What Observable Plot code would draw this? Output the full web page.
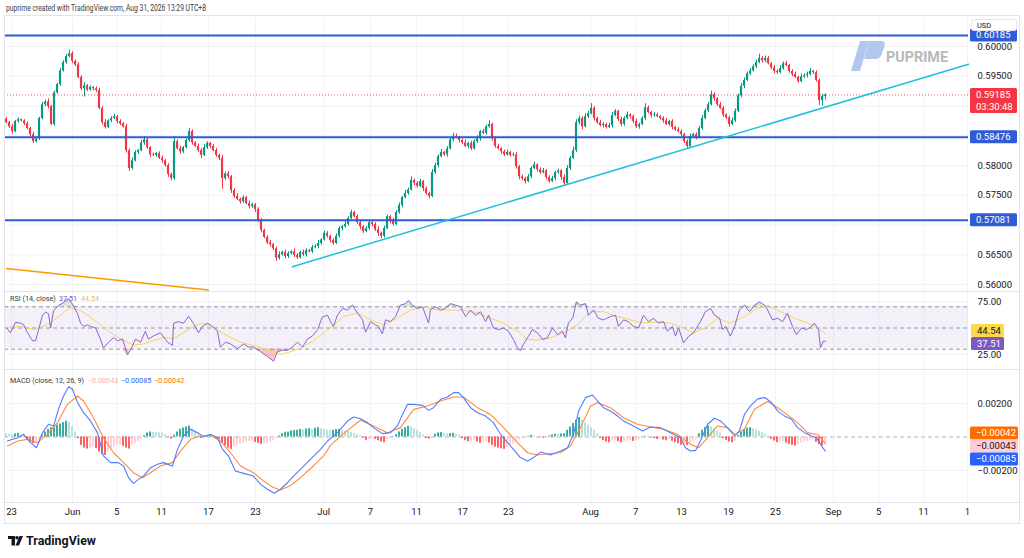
<!DOCTYPE html>
<html><head><meta charset="utf-8">
<script src="https://cdn.jsdelivr.net/npm/d3@7"></script>
<script src="https://cdn.jsdelivr.net/npm/@observablehq/plot@0.6"></script>
<style>
body{margin:0;background:#fff;}
#root{position:relative;width:1024px;height:558px;overflow:hidden;background:#fff;font-family:Roboto,"Noto Sans",sans-serif;}
#root > svg{position:absolute;left:0;}
</style></head><body><div id="root"></div>
<script>
// ---------- DATA ----------
const firstOpen = 0.5878;
const closes = [
0.5872,0.5865,0.5857,0.5874,0.5877,0.5875,0.5870,0.5862,0.5852,0.5840,
0.5845,0.5879,0.5902,0.5907,0.5899,0.5869,0.5922,0.5936,0.5959,0.5973,
0.5983,0.5988,0.5975,0.5969,0.5948,0.5929,0.5934,0.5927,0.5931,0.5929,
0.5926,0.5896,0.5872,0.5864,0.5875,0.5879,0.5882,0.5874,0.5870,0.5865,
0.5825,0.5795,0.5808,0.5822,0.5825,0.5838,0.5843,0.5830,0.5818,0.5817,
0.5820,0.5812,0.5808,0.5800,0.5785,0.5778,0.5840,0.5828,0.5823,0.5830,
0.5842,0.5857,0.5838,0.5832,0.5825,0.5817,0.5830,0.5837,0.5832,0.5825,
0.5817,0.5812,0.5778,0.5786,0.5781,0.5758,0.5748,0.5743,0.5739,0.5746,
0.5736,0.5731,0.5734,0.5726,0.5707,0.5691,0.5679,0.5670,0.5667,0.5660,
0.5644,0.5650,0.5654,0.5647,0.5652,0.5655,0.5649,0.5645,0.5654,0.5650,
0.5657,0.5655,0.5662,0.5664,0.5669,0.5675,0.5686,0.5681,0.5674,0.5669,
0.5681,0.5694,0.5697,0.5701,0.5711,0.5721,0.5714,0.5704,0.5697,0.5689,
0.5694,0.5704,0.5701,0.5692,0.5686,0.5681,0.5694,0.5714,0.5706,0.5701,
0.5721,0.5733,0.5746,0.5753,0.5759,0.5775,0.5770,0.5765,0.5773,0.5761,
0.5753,0.5748,0.5788,0.5800,0.5815,0.5822,0.5818,0.5828,0.5843,0.5849,
0.5847,0.5842,0.5838,0.5832,0.5837,0.5828,0.5840,0.5845,0.5857,0.5854,
0.5865,0.5869,0.5845,0.5832,0.5828,0.5823,0.5818,0.5822,0.5817,0.5818,
0.5798,0.5781,0.5778,0.5773,0.5781,0.5795,0.5801,0.5793,0.5788,0.5791,
0.5780,0.5773,0.5778,0.5788,0.5791,0.5780,0.5770,0.5795,0.5812,0.5825,
0.5872,0.5879,0.5865,0.5882,0.5887,0.5896,0.5879,0.5872,0.5867,0.5869,
0.5864,0.5867,0.5884,0.5891,0.5877,0.5869,0.5879,0.5885,0.5882,0.5874,
0.5865,0.5869,0.5879,0.5897,0.5889,0.5884,0.5885,0.5882,0.5879,0.5875,
0.5869,0.5874,0.5864,0.5860,0.5857,0.5852,0.5840,0.5832,0.5849,0.5852,
0.5847,0.5862,0.5879,0.5892,0.5902,0.5919,0.5912,0.5902,0.5896,0.5885,
0.5880,0.5869,0.5875,0.5891,0.5917,0.5933,0.5943,0.5954,0.5959,0.5966,
0.5973,0.5980,0.5976,0.5980,0.5971,0.5964,0.5958,0.5956,0.5963,0.5971,
0.5968,0.5958,0.5953,0.5948,0.5941,0.5949,0.5951,0.5953,0.5958,0.5956,
0.5943,0.5909,0.5916,0.59185];
// wick extents beyond the body, in pips (0.0001)
const wickUp = [
3,2,4,2,3,1,2,3,2,4, 3,2,4,3,5,2,3,2,4,3, 4,6,3,2,4,3,5,2,3,2, 3,4,3,5,2,3,4,2,3,2,
4,3,5,3,2,4,6,3,2,3, 2,3,4,2,3,2,8,3,4,2, 3,5,3,2,4,3,5,3,2,3, 4,2,5,3,4,2,3,5,2,3,
2,4,3,2,3,4,2,3,4,2, 3,5,2,4,3,2,5,3,2,4, 3,2,4,3,5,2,4,3,2,3, 4,3,2,5,3,4,2,3,4,2,
3,4,2,3,5,2,4,3,2,5, 3,4,2,5,3,6,2,3,4,2, 3,2,5,4,3,5,2,4,3,5, 4,2,3,5,2,4,3,5,2,4,
3,6,2,3,4,2,3,4,2,3, 4,2,3,2,4,3,5,2,3,4, 2,3,4,2,3,2,4,5,3,6, 5,4,3,5,4,8,3,2,4,3,
2,4,5,3,2,4,3,5,2,3, 4,2,3,7,3,2,4,3,2,3, 4,2,3,2,4,3,2,3,4,2, 3,4,5,3,4,6,3,2,4,3,
2,3,5,4,3,5,4,3,4,3, 4,7,3,4,3,2,4,3,5,3, 4,2,3,4,2,5,3,4,5,2, 3,2,3,2];
const wickDn = [
2,3,4,2,3,2,3,2,4,3, 2,3,2,3,4,2,3,2,3,2, 3,2,4,3,2,3,14,3,2,4, 3,2,4,3,2,3,2,4,3,2,
4,5,3,2,3,2,4,3,5,2, 3,2,4,3,5,4,3,2,4,3, 2,3,4,2,3,5,2,3,4,2, 3,4,18,3,4,5,3,2,4,3,
2,4,3,5,3,4,2,3,4,3, 5,3,2,4,3,2,4,3,2,3, 4,2,3,2,4,3,2,3,4,3, 2,3,4,2,3,4,2,3,5,3,
2,3,4,3,5,4,3,2,4,3, 2,3,4,2,3,2,4,3,2,5, 3,4,2,3,4,2,3,4,2,3, 2,4,3,2,4,3,2,3,4,2,
3,2,4,3,2,4,3,2,3,2, 4,5,3,4,2,3,2,4,3,2, 4,3,2,4,3,5,4,2,3,2, 3,4,5,2,3,2,4,3,2,4,
3,2,4,2,3,4,3,2,4,3, 3,4,2,3,2,4,3,2,3,4, 2,3,4,3,2,4,3,4,2,3, 4,2,3,2,3,2,4,3,2,4,
3,5,2,3,2,3,4,2,3,2, 3,2,4,3,2,3,4,3,2,3, 2,3,4,2,3,2,3,4,2,3, 3,8,9,6];
// MACD histogram per bar, in units of 0.00001
const histVals = [
20,16,14,18,22,8,-4,-20,-34,-40, -36,-16,10,30,46,56,62,70,78,86,
94,90,60,30,-10,-50,-66,-72,-68,-60, -70,-90,-106,-110,-90,-72,-60,-50,-46,-56,
-66,-72,-50,-40,-28,-14,8,24,30,28, 26,24,22,14,-4,-12,10,30,46,54,
60,66,50,36,20,-8,-4,4,6,2, -6,-14,-36,-52,-66,-74,-60,-50,-44,-36,
-30,-26,-24,-32,-38,-44,-40,-36,-30,-20, -8,6,20,28,30,36,38,40,46,44,
48,50,46,52,56,50,44,40,38,40, 44,46,40,36,32,28,22,16,8,-6,
-20,-16,-12,-14,-22,-30,-34,-16,-6,2, 14,30,46,56,64,60,50,40,28,12,
-8,-12,-2,16,24,26,22,18,20,22, 16,12,-10,-20,-28,-24,-18,-30,-38,-32,
-26,-36,-50,-60,-66,-70,-74,-62,-50,-42, -30,-18,-8,-2,4,10,6,2,-4,-6,
-2,6,12,16,14,18,20,40,60,80, 100,116,100,86,70,56,40,20,-8,-20,
-30,-34,-24,-20,-28,-34,-30,-24,-20,-26, -22,-16,-8,4,2,-4,-10,-14,-12,-18,
-22,-16,-26,-34,-40,-50,-44,-52,-40,-30, -16,20,40,56,66,60,50,36,24,-10,
-20,-30,-34,-24,10,30,46,52,56,50, 42,34,26,16,6,-14,-24,-34,-30,-28,
-36,-44,-50,-54,-44,-36,-30,-26,-20,-18, -32,-46,-54,-43];
// [bar, value] readings
const rsiLine = [[0,50],[1.3,45.5],[3,55.4],[4.7,54.5],[5.7,53],[7,45.5],[8.7,38],[9.7,38],[10.7,48.5],[12,62],[13,65],[14,63.4],[14.7,50],[15.7,66.4],[17.3,71],[19,74],[20.7,77.8],[22,72.4],[23.7,63.4],[24.7,54.5],[25.7,51.5],[27,53],[28,51.5],[29.7,50],[31.3,39.6],[32.3,31.2],[34,36.6],[35.7,41],[37,38],[38.7,39.6],[40.3,24.6],[41.3,29],[43,39.6],[44.7,36.6],[46.3,47],[47.3,39.6],[49,42.5],[51.3,45.5],[53.7,36.6],[55.3,33.6],[55.7,54.5],[57.3,56],[59,54.5],[60.7,61],[62.3,54.5],[64,45.5],[65.3,51.5],[67,54.5],[68.7,51.5],[70.3,47],[71.3,32],[73,36.6],[74.7,35],[77,30.6],[79,35],[80.7,32],[82.3,32],[84.7,27.6],[87,23],[89,18.7],[90.3,27.6],[92,29],[93.7,29],[95.3,32],[97,36.6],[98.7,32],[100.3,39.6],[102,42.5],[103.7,48.5],[105.3,60.4],[107,62],[108,56],[109,51.5],[110.3,62],[112,68.5],[113.7,67],[115.3,71.5],[117,64],[118.7,57.7],[119.7,46],[121.3,56],[123,53],[124,51.5],[125.3,44.5],[126.3,57.7],[128,56],[129.7,60.8],[131.3,71.5],[133,73],[134,76],[135.3,71.5],[137,68.5],[138.7,70],[139.7,62],[140.7,54.6],[141.3,67],[143,70],[144.7,67],[146.3,68.5],[148,73],[149.7,71.5],[151.3,70],[153,60.8],[154.7,67],[156.3,62],[158,65.4],[159.7,56],[160.7,62],[162.3,50],[164,48.5],[165.7,50],[167.3,47],[169,39],[170.3,31.5],[171.3,28.5],[172.3,34.6],[174,42.3],[175.3,48.5],[177,45.4],[178.7,39.2],[180.3,40.8],[182,50],[183.7,43.8],[185.3,47],[186.3,40.8],[187.3,54.6],[188.7,59.2],[190,74.6],[191.3,71.5],[193,73],[194,62],[195.7,67],[197.3,59.2],[199,57.7],[201.3,60.8],[203,62],[204,51.5],[205.7,57.7],[207.3,56],[209,51.5],[210.7,50],[212.3,62],[214,56],[215.7,59.2],[217.3,54.6],[219,56],[220.3,47],[222,51.5],[223,42.3],[224,50],[225.7,36],[227.3,42],[229,45.4],[231.3,56],[233,65.4],[234.7,68.5],[236,62],[237.7,59.2],[238.7,48.5],[239.7,51.5],[241.3,42.3],[242.7,51.5],[244.3,67],[246,71.5],[247.7,65.4],[249.3,71.5],[251,74.6],[252.7,71.5],[253.7,67],[255.3,57.7],[257,59.2],[258.7,56],[260.3,64],[262,51.5],[263.3,43.8],[265,50],[266.7,48.5],[268.3,51.5],[269.3,54.6],[270.7,48.5],[271.3,31.5],[272.3,37.7],[273,37.51]];
const rsiMA = [[0,50],[4.7,51.5],[9,48.5],[13.7,53],[18,62],[21.3,69.4],[24.7,66.4],[28,60.4],[31.3,53],[34.7,45.5],[38,39.6],[42.3,34],[45.7,35],[49,38],[52.3,41],[55.7,40],[59,45.5],[62.3,51.5],[65.7,54.5],[69,50],[73.7,42.5],[78,36.6],[82.3,33.6],[87,29],[91.3,25.2],[94.7,27.6],[98,30.6],[102.3,38],[105.7,45.5],[108,50],[112.3,60.8],[117,64],[121.3,57.7],[125.7,53],[130.3,59.2],[134.7,67],[139,70],[143.7,67],[148,67],[152.3,67],[157,64],[161.3,59.2],[165.7,54.6],[170.3,47],[173.7,39.2],[177,38.6],[181.3,40.8],[185.7,45.4],[190.3,53],[194.7,65.4],[199,65.4],[203.7,60.8],[208,57.7],[212.3,54.6],[217,56],[221.3,54.6],[225.7,50],[229,45.4],[233.7,51.5],[237,59.2],[241.3,54.6],[246,60.8],[250.3,68.5],[253.7,71.5],[258,65.4],[262.7,59.2],[267,54.6],[270.7,50],[273,44.54]];
const macdLine = [[0.3,-0.00024],[3.7,-0.00004],[5.7,0.00016],[8,-0.00034],[10,-0.00064],[12,0.00026],[14,0.00076],[15.7,0.00066],[17.3,0.00165],[19,0.00245],[20.7,0.0030],[22,0.00285],[23.7,0.00205],[25.7,0.00145],[28,0.00096],[30.3,0.00026],[32.3,-0.00113],[34.7,-0.00153],[37.3,-0.00153],[39,-0.00173],[40.7,-0.00243],[42.3,-0.00277],[44,-0.00253],[45.7,-0.00233],[48,-0.00183],[50.3,-0.00163],[52.3,-0.00153],[55.3,-0.00173],[57,-0.00074],[59,0.00006],[61.3,0.00046],[63.7,0.00026],[65.7,0.00002],[68,0.00016],[70.3,-0.00004],[72,-0.00074],[74,-0.00113],[76.3,-0.00203],[79,-0.00217],[82.3,-0.00233],[84.7,-0.00283],[87,-0.00312],[89.3,-0.00336],[91.3,-0.00312],[93.7,-0.00273],[95.7,-0.00233],[98,-0.00193],[101.3,-0.00133],[104.7,-0.00074],[107,-0.00024],[110.3,0.00026],[111.3,0.00046],[113.7,0.00096],[115.7,0.00119],[118,0.00109],[120.3,0.00086],[122.3,0.00056],[125.3,0.0002],[128,0.00026],[130.3,0.00066],[132,0.00135],[133.7,0.00195],[135.7,0.00195],[138.7,0.00189],[140.7,0.00159],[142.3,0.00175],[144.7,0.00225],[147,0.00239],[149,0.00265],[150.7,0.00265],[152.3,0.00235],[154.7,0.00175],[157,0.00145],[159.7,0.00125],[162.3,0.00086],[164.7,0.00016],[167,-0.00034],[169,-0.00074],[171.3,-0.00123],[173.7,-0.00143],[175.7,-0.00123],[178,-0.0009],[181.3,-0.00107],[184.7,-0.00084],[187,-0.00064],[189,0.00016],[190.7,0.00155],[193,0.00235],[195.3,0.00251],[197,0.00215],[199,0.00175],[201.3,0.00155],[203.7,0.00125],[205.7,0.00096],[209,0.00066],[212,0.00036],[214.7,0.0006],[218,0.00056],[221.3,0.00026],[224.7,-0.00004],[226.3,-0.00064],[228,-0.00084],[229.7,-0.0008],[231.3,-0.00024],[233.7,0.00076],[236,0.00112],[238,0.00096],[240.3,0.00056],[242.7,0.00006],[244.3,0.00036],[246,0.00136],[248,0.00186],[250.3,0.00226],[252.7,0.00236],[255,0.00206],[257,0.00156],[259.3,0.00126],[261.7,0.00106],[263.7,0.00056],[266,0.00026],[268.3,0.00006],[270,-0.00004],[271.7,-0.00054],[273,-0.00085]];
const signalLine = [[0.3,-0.00054],[3.7,-0.00024],[7,-0.00014],[10.3,-0.00034],[13.7,0.00016],[17,0.00086],[20.3,0.00195],[23.7,0.00245],[25.7,0.00215],[29,0.00115],[32.3,-0.00004],[35.7,-0.00094],[39,-0.00153],[42.3,-0.00213],[45.3,-0.00243],[48,-0.00213],[51.3,-0.00173],[55.3,-0.00153],[58,-0.00084],[61.3,-0.00014],[64.7,0.00006],[68,0.0001],[71.3,-0.00024],[74.7,-0.00094],[78,-0.00173],[82.3,-0.00213],[85.7,-0.00263],[89,-0.00302],[91.3,-0.00316],[94.7,-0.00289],[98,-0.00243],[102.3,-0.00173],[105.7,-0.00113],[108,-0.0005],[112.3,0.0002],[118,0.001],[122.3,0.00066],[127,0.00026],[131.3,0.00056],[135.7,0.00165],[140.3,0.00185],[144.7,0.00215],[149,0.00239],[152.3,0.00239],[157,0.00175],[161.3,0.00135],[165.7,0.00056],[170.3,-0.00034],[173.7,-0.00094],[177,-0.00107],[180.3,-0.001],[184.7,-0.00094],[188,-0.00054],[191.3,0.00056],[194.7,0.00185],[197,0.00205],[201.3,0.00175],[205.7,0.00115],[210.3,0.00076],[214.7,0.0006],[219,0.00046],[223.7,0.00016],[228,-0.00044],[230.7,-0.00064],[233.7,-0.00004],[237,0.00066],[240.3,0.00056],[243,0.00016],[246,0.00046],[249.3,0.00166],[253.7,0.00212],[257,0.00176],[260.3,0.00132],[263.7,0.00086],[267,0.00026],[270.7,0.00012],[273,-0.00042]];
const tickBars = [1.7,22,36.7,51.7,67.3,83,105.7,121.3,136.7,152,167.3,194.7,209.7,225,240.7,256.3,275.7,290.7,305.7,320.3];
const tickLabels = ["23","Jun","5","11","17","23","Jul","7","11","17","23","Aug","7","13","19","25","Sep","5","11","1"];
const priceTicks = [0.56,0.565,0.57,0.575,0.58,0.585,0.59,0.595,0.60];
const hLevels = [0.60185, 0.58476, 0.57081];
const lastPrice = 0.59185;
const countdown = "03:30:48";
const trendCyan = [[95.3,0.5630],[320.67,0.5970]];
const trendOrange = [[0,0.5627],[67.3,0.5591]];
const rsiLast = 37.51, rsiMALast = 44.54;
const histLast = -0.00043, macdLast = -0.00085, signalLast = -0.00042;

// ---------- STYLE ----------
const W = 1024, ML = 4, MR = 56;
const xDomain = [-0.67, 320.67];
const UP = "#089981", DN = "#f23645", GRID = "#f0f2f6", BLUE = "#2f5cd6";
const baseStyle = {fontFamily: "Roboto, sans-serif", fontSize: "9.5px", color: "#131722", background: "transparent", overflow: "visible"};
const tickMap = new Map(tickBars.map((b, i) => [b, tickLabels[i]]));
const root = document.getElementById("root");
const fmtNeg = (d, n) => (d < 0 ? "\u2212" : "") + Math.abs(d).toFixed(n);

const candles = closes.map((c, i) => {
  const o = i === 0 ? firstOpen : closes[i - 1];
  return {i, o, c, h: Math.max(o, c) + wickUp[i] * 1e-4, l: Math.min(o, c) - wickDn[i] * 1e-4, col: c >= o ? UP : DN};
});
const hist = histVals.map((v, i) => {
  const p = i ? histVals[i - 1] : v;
  const col = v >= 0 ? (v > p ? "#26a69a" : "#b2dfdb") : (v < p ? "#ff5252" : "#ffcdd2");
  return {i, v: v * 1e-5, col};
});
const hideNear = p => hLevels.some(l => Math.abs(l - p) < 0.0015) || (p < lastPrice && lastPrice - p < 0.0035);

// ---------- PRICE PANE ----------
const PT = 17, PH = 275;
const price = Plot.plot({
  width: W, height: PH, marginTop: 0, marginBottom: 0, marginLeft: ML, marginRight: MR,
  x: {domain: xDomain, axis: null},
  y: {domain: [0.55866, 0.60487], axis: null},
  color: {type: "identity"},
  style: baseStyle,
  marks: [
    Plot.ruleY(priceTicks, {stroke: GRID}),
    Plot.ruleX(tickBars, {stroke: GRID}),
    Plot.ruleY([lastPrice], {stroke: DN, strokeDasharray: "1,2", strokeOpacity: 0.8}),
    Plot.line(trendOrange, {x: d => d[0], y: d => d[1], stroke: "#ff9800", strokeWidth: 1.5}),
    Plot.ruleX(candles, {x: "i", y1: "l", y2: "h", stroke: "col", strokeWidth: 1}),
    Plot.rect(candles, {x1: d => d.i - 0.36, x2: d => d.i + 0.36, y1: "o",
      y2: d => Math.abs(d.c - d.o) < 0.0001 ? d.o + (d.c >= d.o ? 0.0001 : -0.0001) : d.c, fill: "col"}),
    Plot.ruleY(hLevels, {stroke: BLUE, strokeWidth: 2}),
    Plot.line(trendCyan, {x: d => d[0], y: d => d[1], stroke: "#22bfd9", strokeWidth: 1.5}),
    Plot.axisY(priceTicks.filter(p => !hideNear(p)), {anchor: "right", label: null, tickSize: 0, tickPadding: 9, tickFormat: d => d.toFixed(5)})
  ]
});
price.style.top = PT + "px";
root.appendChild(price);

// ---------- RSI PANE ----------
const RT = 292, RH = 78;
const rsi = Plot.plot({
  width: W, height: RH, marginTop: 0, marginBottom: 0, marginLeft: ML, marginRight: MR,
  x: {domain: xDomain, axis: null},
  y: {domain: [9.9, 83.5], axis: null},
  style: baseStyle,
  marks: [
    Plot.ruleY([25, 75], {stroke: GRID}),
    Plot.ruleX(tickBars, {stroke: GRID}),
    Plot.rect([0], {y1: 30, y2: 70, fill: "#7e57c2", fillOpacity: 0.09}),
    Plot.ruleY([70, 50, 30], {stroke: "#9598a1", strokeDasharray: "4,3", strokeWidth: 1}),
    Plot.areaY(rsiLine, {x: d => d[0], y1: 70, y2: d => Math.max(70, d[1]), fill: "#4caf50", fillOpacity: 0.25}),
    Plot.areaY(rsiLine, {x: d => d[0], y1: 30, y2: d => Math.min(30, d[1]), fill: "#f23645", fillOpacity: 0.3}),
    Plot.line(rsiMA, {x: d => d[0], y: d => d[1], stroke: "#f7d55a", strokeWidth: 1}),
    Plot.line(rsiLine, {x: d => d[0], y: d => d[1], stroke: "#8a65cc", strokeWidth: 1}),
    Plot.axisY([25, 75], {anchor: "right", label: null, tickSize: 0, tickPadding: 9, tickFormat: d => d.toFixed(2)})
  ]
});
rsi.style.top = RT + "px";
root.appendChild(rsi);

// ---------- MACD PANE ----------
const MT = 370, MH = 133;
const macd = Plot.plot({
  width: W, height: MH + 20, marginTop: 0, marginBottom: 20, marginLeft: ML, marginRight: MR,
  x: {domain: xDomain, axis: null},
  y: {domain: [-0.00397, 0.00397], axis: null},
  color: {type: "identity"},
  style: baseStyle,
  marks: [
    Plot.ruleY([-0.002, 0.002], {stroke: GRID}),
    Plot.ruleX(tickBars, {stroke: GRID}),
    Plot.ruleY([0], {stroke: "#b2b5be", strokeDasharray: "4,3"}),
    Plot.rect(hist, {x1: d => d.i - 0.3, x2: d => d.i + 0.3, y1: 0, y2: "v", fill: "col"}),
    Plot.line(signalLine, {x: d => d[0], y: d => d[1], stroke: "#ff8a3d", strokeWidth: 1.1}),
    Plot.line(macdLine, {x: d => d[0], y: d => d[1], stroke: "#4f7dff", strokeWidth: 1.1}),
    Plot.axisY([-0.002, 0.002], {anchor: "right", label: null, tickSize: 0, tickPadding: 9, tickFormat: d => fmtNeg(d, 5)}),
    Plot.axisX(tickBars, {anchor: "bottom", label: null, tickSize: 0, tickPadding: 5, tickFormat: d => tickMap.get(d)})
  ]
});
macd.style.top = MT + "px";
root.appendChild(macd);

// ---------- OVERLAY (frame, legends, axis label boxes, branding) ----------
const ov = d3.create("svg").attr("width", W).attr("height", 558)
  .style("top", "0px").style("pointer-events", "none").style("font-family", "Roboto, sans-serif");
const line = (x1, y1, x2, y2, c = "#e0e3eb") => ov.append("line").attr("x1", x1).attr("y1", y1).attr("x2", x2).attr("y2", y2).attr("stroke", c);
line(4, 15.5, 1020, 15.5); line(4.5, 15.5, 4.5, 523.5); line(1019.5, 15.5, 1019.5, 523.5);
line(4, 291.5, 1020, 291.5); line(4, 369.5, 1020, 369.5); line(4, 502.5, 1020, 502.5); line(4, 523.5, 1020, 523.5);

const text = (x, y, s, o = {}) => {
  const t = ov.append("text").attr("x", x).attr("y", y).text(s)
    .attr("font-size", o.size || 7.2).attr("fill", o.fill || "#131722");
  if (o.len) t.attr("textLength", o.len).attr("lengthAdjust", "spacingAndGlyphs");
  if (o.weight) t.attr("font-weight", o.weight);
  return t;
};
// header
text(6, 11, "puprime created with TradingView.com, Aug 31, 2026 13:29 UTC+8", {size: 9, len: 200, fill: "#363a45"});
// RSI legend
text(10, 300.5, "RSI (14, close)", {fill: "#363a45"});
text(59, 300.5, rsiLast.toFixed(2), {fill: "#7e57c2"});
text(81, 300.5, rsiMALast.toFixed(2), {fill: "#f2c231"});
// MACD legend
text(10, 383, "MACD (close, 12, 26, 9)", {fill: "#363a45"});
text(88, 383, fmtNeg(histLast, 5), {fill: "#f9aab3"});
text(121, 383, fmtNeg(macdLast, 5), {fill: "#2962ff"});
text(154, 383, fmtNeg(signalLast, 5), {fill: "#ff6d00"});

// axis label boxes
function box(cy, labels, bg, fg, x0 = 970, w = 47) {
  const h = 12 * labels.length + 1;
  ov.append("rect").attr("x", x0).attr("y", cy - 6.5).attr("width", w).attr("height", h).attr("rx", 1.5).attr("fill", bg);
  labels.forEach((s, k) => text(x0 + 6, cy + 3.4 + 12 * k, s, {size: 9.5, fill: fg}));
}
const py = v => PT + price.scale("y").apply(v);
hLevels.forEach(v => box(py(v), [v.toFixed(5)], BLUE, "#fff"));
box(py(lastPrice), [lastPrice.toFixed(5), countdown], DN, "#fff");
ov.append("rect").attr("x", 971.5).attr("y", 19.5).attr("width", 45).attr("height", 11).attr("rx", 2).attr("fill", "#fff").attr("stroke", "#e0e3eb");
text(977, 28, "USD", {size: 7.5});

function spread(arr, gap) {
  arr.sort((a, b) => a.y - b.y);
  for (let k = 0; k < 60; k++) {
    let moved = false;
    for (let j = 1; j < arr.length; j++) {
      const d = arr[j].y - arr[j - 1].y;
      if (d < gap) { const s = (gap - d) / 2; arr[j].y += s; arr[j - 1].y -= s; moved = true; }
    }
    if (!moved) break;
  }
  return arr;
}
const ry = v => RT + rsi.scale("y").apply(v);
spread([
  {y: ry(rsiMALast), s: rsiMALast.toFixed(2), bg: "#fcd94a", fg: "#131722"},
  {y: ry(rsiLast), s: rsiLast.toFixed(2), bg: "#7e57c2", fg: "#fff"}
], 13).forEach(b => box(b.y, [b.s], b.bg, b.fg, 971, 33));
const my = v => MT + macd.scale("y").apply(v);
spread([
  {y: my(signalLast) - 0.1, s: fmtNeg(signalLast, 5), bg: "#ff6d00", fg: "#fff"},
  {y: my(histLast), s: fmtNeg(histLast, 5), bg: "#ffcdd2", fg: "#131722"},
  {y: my(macdLast), s: fmtNeg(macdLast, 5), bg: "#2962ff", fg: "#fff"}
], 13).forEach(b => box(b.y, [b.s], b.bg, b.fg, 970, 48));

// PU PRIME watermark
ov.append("path").attr("d", "M851,71 L860,71 L869,41 L860,41 Z").attr("fill", "#b3c6ee");
ov.append("path").attr("d", "M869,41 L881,41 Q886,41 884.5,46 L881.5,55 Q880,59 875,59 L864,59 Z").attr("fill", "#b3c6ee");
text(886, 62, "PUPRIME", {size: 15, weight: 700, fill: "#b8b8bc", len: 62});

// TradingView branding
ov.append("path").attr("d", "M8,536 H15 V545.5 H11.5 V539 H8 Z").attr("fill", "#131722");
ov.append("circle").attr("cx", 17).attr("cy", 537.8).attr("r", 1.8).attr("fill", "#131722");
ov.append("path").attr("d", "M19.5,536 H23 L19,545.5 H15.5 Z").attr("fill", "#131722");
text(26, 545, "TradingView", {size: 12, weight: 700, len: 70});

root.appendChild(ov.node());
</script></body></html>
